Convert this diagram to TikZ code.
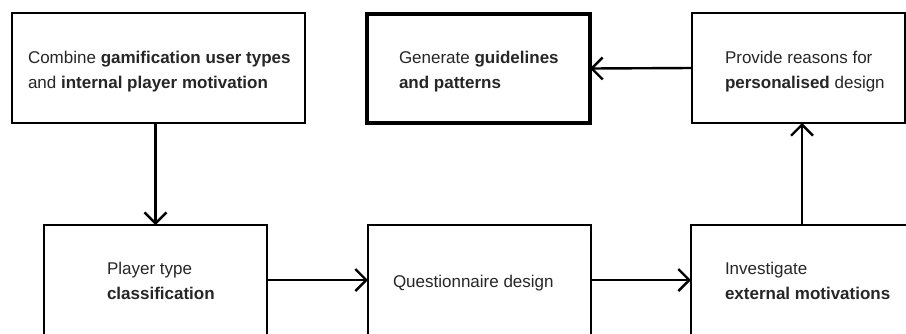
\documentclass[tikz,border=0pt]{standalone}
\usepackage{fontspec}
\setmainfont{Liberation Sans}
\usetikzlibrary{arrows.meta}
\tikzset{
  box/.style={draw=black, line width=2pt, fill=white, inner sep=0pt, outer sep=0pt, minimum width=#1, minimum height=110pt},
  thickbox/.style={draw=black, line width=4.5pt, inner sep=0pt, outer sep=0pt, minimum width=223pt, minimum height=109pt},
  txt/.style={inner sep=0pt, outer sep=0pt, align=left, text=black!85, font=\fontsize{17}{25}\selectfont},
  arr/.style={line width=2.4pt, -{Straight Barb[length=11pt,width=22pt,line width=2.4pt]}}
}
\begin{document}
\begin{tikzpicture}[x=1pt,y=-1pt]
\clip (0,0) rectangle (906,333);
\fill[white] (0,0) rectangle (906,333);
\node[box=293pt] (A) at (158.5,68) {};
\node[thickbox] (B) at (478.5,68.5) {};
\node[box=213pt] (C) at (798.5,68) {};
\node[box=223pt] (D) at (155.5,280) {};
\node[box=223pt] (E) at (479.5,280) {};
\node[box=222pt] (F) at (802,280) {};
\node[txt, anchor=base west] (tA) at (28,88) {Combine \textbf{gamification user types}\\and \textbf{internal player motivation}};
\node[txt, anchor=base west] (tB) at (399,88) {Generate \textbf{guidelines}\\\textbf{and patterns}};
\node[txt, anchor=base west] (tC) at (725,88) {Provide reasons for\\\textbf{personalised} design};
\node[txt, anchor=base west] (tD) at (107,299) {Player type\\\textbf{classification}};
\node[txt, anchor=base west] (tE) at (393,287) {Questionnaire design};
\node[txt, anchor=base west] (tF) at (725,299) {Investigate\\\textbf{external motivations}};
\draw[arr] (A.south -| D.north) -- (D.north);
\draw[arr] (D.east) -- (E.west);
\draw[arr] (E.east) -- (F.west);
\draw[arr] (F.north) -- (F.north |- C.south);
\draw[arr] (C.west) -- (B.east);
\end{tikzpicture}
\end{document}
